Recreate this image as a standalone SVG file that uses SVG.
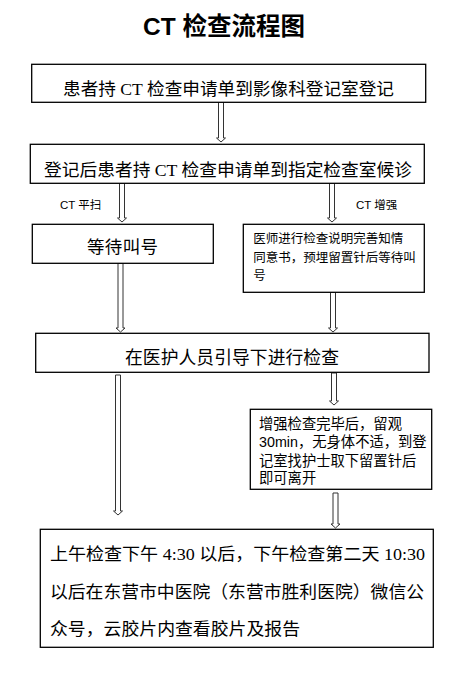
<svg xmlns="http://www.w3.org/2000/svg" width="454" height="691" viewBox="0 0 454 691">
<style>
.box{fill:#fff;stroke:#000;stroke-width:1.3}
.arr{fill:#fff;stroke:#333;stroke-width:1}
.sr{font-family:"Liberation Serif","Noto Sans CJK SC",serif;font-size:17.5px;fill:#000}
.ss{font-family:"Liberation Sans","Noto Sans CJK SC",sans-serif;fill:#000}
.title{font-family:"Liberation Sans","Noto Sans CJK SC",sans-serif;font-size:24.5px;font-weight:bold;fill:#000}
</style>
<rect width="454" height="691" fill="#fff"/>
<text class="title" x="224" y="35" text-anchor="middle">CT 检查流程图</text>

<g id="connectors">
<path class="arr" d="M218.5,102 V138 H216.5 L221,142 L225.5,138 H223.5 V102 Z"/>
<path class="arr" d="M119.5,183 V218 H117.5 L122,222 L126.5,218 H124.5 V183 Z"/>
<path class="arr" d="M329.5,183 V218 H327.5 L332,222 L336.5,218 H334.5 V183 Z"/>
<path class="arr" d="M118,263 V328 H116 L120.5,332 L125,328 H123 V263 Z"/>
<path class="arr" d="M330.5,292 V328 H328.5 L333,332 L337.5,328 H335.5 V292 Z"/>
<path class="arr" d="M115.5,375 V511 H113.5 L118,515 L122.5,511 H120.5 V375 Z"/>
<path class="arr" d="M331.5,373 V401 H329.5 L334,405 L338.5,401 H336.5 V373 Z"/>
<path class="arr" d="M333,493 V524 H331 L335.5,528 L340,524 H338 V493 Z"/>
<text class="ss" x="60" y="208.5" font-size="11.5">CT 平扫</text>
<text class="ss" x="356" y="208.5" font-size="11.5">CT 增强</text>
</g>

<g id="n1">
<rect class="box" x="31.7" y="64.3" width="394" height="38"/>
<text class="sr" x="63" y="94.5" textLength="331" lengthAdjust="spacingAndGlyphs">患者持 CT 检查申请单到影像科登记室登记</text>
</g>
<g id="n2">
<rect class="box" x="30.3" y="144.3" width="394" height="39"/>
<text class="sr" x="44" y="175.5" textLength="368" lengthAdjust="spacingAndGlyphs">登记后患者持 CT 检查申请单到指定检查室候诊</text>
</g>
<g id="n3">
<rect class="box" x="32.3" y="224.3" width="181" height="39"/>
<text class="ss" x="87" y="253" font-size="17.5" textLength="71">等待叫号</text>
</g>
<g id="n4">
<rect class="box" x="243.3" y="224.3" width="181" height="68"/>
<text class="ss" font-size="12.5">
<tspan x="253.3" y="243">医师进行检查说明完善知情</tspan>
<tspan x="253.3" y="262">同意书，预埋留置针后等待叫</tspan>
<tspan x="253.3" y="280">号</tspan>
</text>
</g>
<g id="n5">
<rect class="box" x="35.7" y="333.3" width="393.3" height="39"/>
<text class="ss" x="125" y="364.3" font-size="17.8" textLength="214">在医护人员引导下进行检查</text>
</g>
<g id="n6">
<rect class="box" x="250.3" y="409.3" width="181.4" height="80"/>
<text class="ss" font-size="14.3">
<tspan x="259" y="428.5">增强检查完毕后，留观</tspan>
<tspan x="259" y="447">30min，无身体不适，到登</tspan>
<tspan x="259" y="465.5">记室找护士取下留置针后</tspan>
<tspan x="259" y="483">即可离开</tspan>
</text>
</g>
<g id="n7">
<rect class="box" x="40.3" y="529.3" width="393" height="118"/>
<text class="sr" x="50" y="560" textLength="375" lengthAdjust="spacingAndGlyphs">上午检查下午 4:30 以后，下午检查第二天 10:30</text>
<text class="sr" x="50" y="597.5" textLength="374" lengthAdjust="spacingAndGlyphs">以后在东营市中医院（东营市胜利医院）微信公</text>
<text class="sr" x="50" y="635" textLength="250" lengthAdjust="spacingAndGlyphs">众号，云胶片内查看胶片及报告</text>
</g>
</svg>
